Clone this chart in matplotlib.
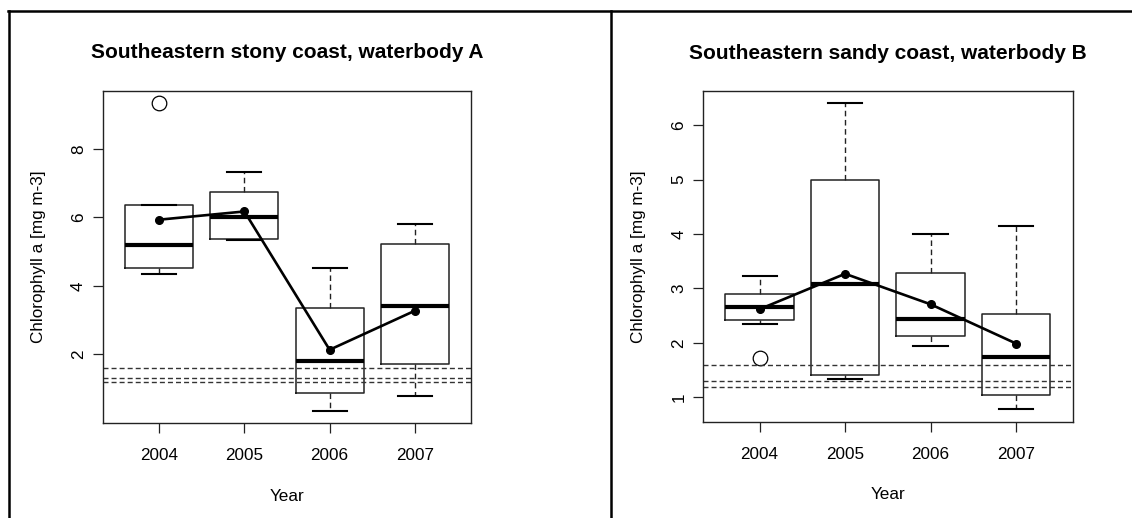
import matplotlib
matplotlib.use('Agg')
import matplotlib.pyplot as plt
from matplotlib.lines import Line2D

plt.rcParams['font.family'] = ['Liberation Sans', 'DejaVu Sans']

years = ['2004', '2005', '2006', '2007']
ref_lines = [1.2, 1.3, 1.6]

# waterbody A (stony coast)
a_whislo = [4.33, 5.35, 0.35, 0.77]
a_q1 = [4.53, 5.37, 0.86, 1.71]
a_med = [5.20, 6.00, 1.80, 3.41]
a_q3 = [6.35, 6.73, 3.36, 5.22]
a_whishi = [6.35, 7.31, 4.53, 5.81]
a_mean = [5.93, 6.17, 2.13, 3.27]
a_fliers = [[9.33], [], [], []]

# waterbody B (sandy coast)
b_whislo = [2.35, 1.33, 1.94, 0.78]
b_q1 = [2.42, 1.42, 2.13, 1.04]
b_med = [2.66, 3.09, 2.44, 1.75]
b_q3 = [2.89, 5.00, 3.29, 2.53]
b_whishi = [3.23, 6.40, 4.00, 4.14]
b_mean = [2.62, 3.27, 2.71, 1.99]
b_fliers = [[1.72], [], [], []]

W, H = 1132, 518
fig = plt.figure(figsize=(W / 100, H / 100), dpi=100)


def panel(rect, title, whislo, q1, med, q3, whishi, mean, fliers, yticks):
    ax = fig.add_axes(rect)
    stats = []
    for i in range(len(years)):
        stats.append(dict(whislo=whislo[i], q1=q1[i], med=med[i], q3=q3[i],
                          whishi=whishi[i], fliers=fliers[i]))
    pos = list(range(1, len(years) + 1))
    ax.bxp(stats, positions=pos, widths=0.8, capwidths=0.4,
           boxprops=dict(color='#222222', lw=1.1),
           medianprops=dict(color='black', lw=3.0, solid_capstyle='butt'),
           whiskerprops=dict(color='#222222', lw=1.0, linestyle=(0, (4, 2.6))),
           capprops=dict(color='black', lw=1.5),
           flierprops=dict(marker='o', markersize=10.5, markerfacecolor='none',
                           markeredgecolor='black', markeredgewidth=0.9))
    for v in ref_lines:
        ax.axhline(v, color='#333333', lw=1.0, linestyle=(0, (3.6, 2.2)))
    ax.plot(pos, mean, color='black', lw=1.9, marker='o', markersize=5.5)

    ax.set_xlim(0.34, 4.66)
    lo = min(min(whislo), min(min(f) for f in fliers if f))
    hi = max(max(whishi), max(max(f) for f in fliers if f))
    pad = (hi - lo) * 0.04
    ax.set_ylim(lo - pad, hi + pad)
    ax.set_xticks(pos)
    ax.set_xticklabels(years, fontsize=12.3)
    ax.set_yticks(yticks)
    ax.set_yticklabels([str(t) for t in yticks], fontsize=12.3, rotation=90, va='center')
    ax.tick_params(axis='both', length=7.2, width=0.9, color='#222222')
    ax.tick_params(axis='x', pad=11)
    ax.tick_params(axis='y', pad=5)
    for s in ax.spines.values():
        s.set_color('#222222')
        s.set_linewidth(1.0)

    ax.set_ylabel('Chlorophyll a [mg m-3]', fontsize=12.3, va='center')
    ax.yaxis.set_label_coords(-0.176, 0.5)
    ax.set_xlabel('Year', fontsize=12.3, va='center')
    ax.xaxis.set_label_coords(0.5, -0.22)
    ax.text(0.5, 1 + 38 / 332, title, transform=ax.transAxes, ha='center', va='center',
            fontsize=15, fontweight='bold')
    return ax


panel([102.9 / W, 1 - 423 / H, 368.2 / W, 332 / H],
      'Southeastern stony coast, waterbody A',
      a_whislo, a_q1, a_med, a_q3, a_whishi, a_mean, a_fliers, [2, 4, 6, 8])
panel([703.2 / W, 1 - 421.7 / H, 369.3 / W, 330.7 / H],
      'Southeastern sandy coast, waterbody B',
      b_whislo, b_q1, b_med, b_q3, b_whishi, b_mean, b_fliers, [1, 2, 3, 4, 5, 6])

# outer frame lines
top = 1 - 11 / H
fig.add_artist(Line2D([8 / W, 1], [top, top], color='black', lw=1.8,
                      transform=fig.transFigure))
for xv in [9 / W, 611 / W]:
    fig.add_artist(Line2D([xv, xv], [0, top], color='black', lw=1.8,
                          transform=fig.transFigure))

fig.savefig('out.png', dpi=100)
